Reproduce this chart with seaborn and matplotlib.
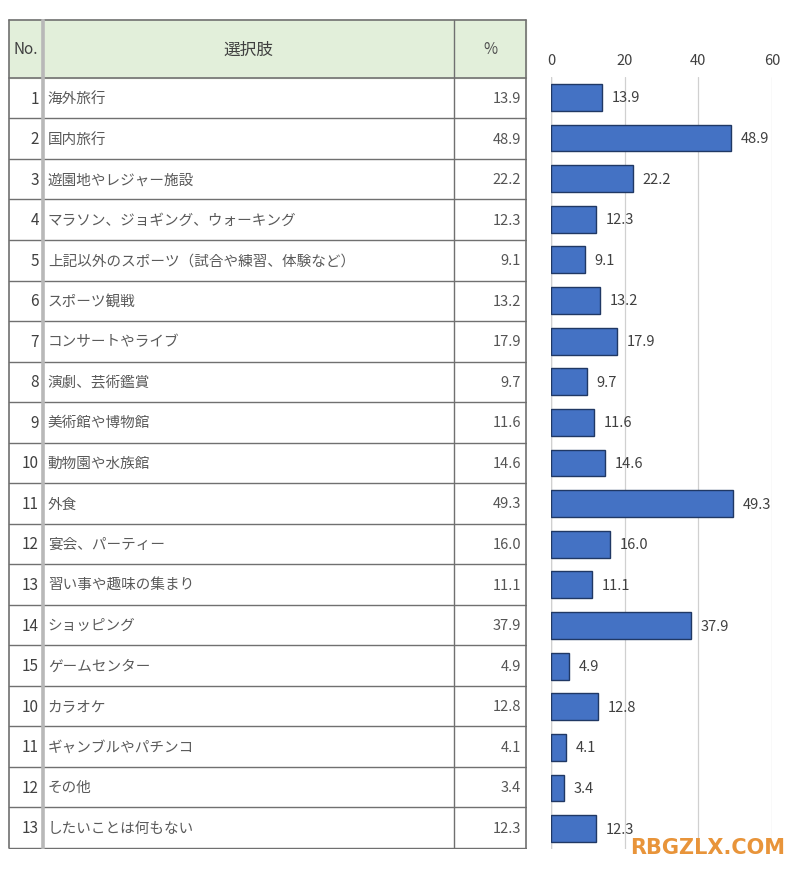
import matplotlib
matplotlib.use("Agg")
import matplotlib.pyplot as plt
import seaborn as sns
import pandas as pd

sns.set_theme(style="white")
plt.rcParams['font.family'] = ['Noto Sans CJK JP', 'DejaVu Sans']

nos = [1, 2, 3, 4, 5, 6, 7, 8, 9, 10, 11, 12, 13, 14, 15, 10, 11, 12, 13]
labels = ["海外旅行", "国内旅行", "遊園地やレジャー施設", "マラソン、ジョギング、ウォーキング",
          "上記以外のスポーツ（試合や練習、体験など）", "スポーツ観戦", "コンサートやライブ",
          "演劇、芸術鑑賞", "美術館や博物館", "動物園や水族館", "外食", "宴会、パーティー",
          "習い事や趣味の集まり", "ショッピング", "ゲームセンター", "カラオケ",
          "ギャンブルやパチンコ", "その他", "したいことは何もない"]
values = [13.9, 48.9, 22.2, 12.3, 9.1, 13.2, 17.9, 9.7, 11.6, 14.6, 49.3, 16.0,
          11.1, 37.9, 4.9, 12.8, 4.1, 3.4, 12.3]
header = ["No.", "選択肢", "%"]
xticks = [0, 20, 40, 60]

W, H = 797, 870
fig = plt.figure(figsize=(W / 100, H / 100), dpi=100)

# ---- table ----
tx0, tx1, ty0, ty1 = 8, 527, 20, 850
tab = fig.add_axes([tx0 / W, 1 - ty1 / H, (tx1 - tx0) / W, (ty1 - ty0) / H])
tab.set_xlim(tx0 - 1, tx1 + 1)
tab.set_ylim(ty1 + 1, ty0 - 1)
tab.axis("off")
hdr_bottom = 78
row_h = (ty1 - hdr_bottom) / len(labels)
c1, c2 = 42, 455
tab.fill_between([tx0, tx1], ty0, hdr_bottom, color="#e2efda", zorder=0)
line_c = "#707070"
tab.plot([tx0, tx1], [ty0, ty0], color=line_c, lw=1.2)
tab.plot([tx0, tx1], [hdr_bottom, hdr_bottom], color=line_c, lw=1.2)
for i in range(1, len(labels) + 1):
    y = hdr_bottom + i * row_h
    tab.plot([tx0, tx1], [y, y], color=line_c, lw=1.0)
tab.plot([tx0, tx0], [ty0, ty1], color=line_c, lw=1.2)
tab.plot([tx1, tx1], [ty0, ty1], color=line_c, lw=1.2)
tab.plot([c1, c1], [ty0, ty1], color="#b8b8b8", lw=2.6)
tab.plot([c2, c2], [ty0, ty1], color=line_c, lw=1.0)

hy = (ty0 + hdr_bottom) / 2
tab.text((tx0 + c1) / 2, hy, header[0], ha="center", va="center", fontsize=11, color="#404040")
tab.text((c1 + c2) / 2, hy, header[1], ha="center", va="center", fontsize=12, color="#404040")
tab.text((c2 + tx1) / 2, hy, header[2], ha="center", va="center", fontsize=11, color="#505050")
for i, (n, lab, v) in enumerate(zip(nos, labels, values)):
    y = hdr_bottom + (i + 0.5) * row_h
    tab.text(c1 - 4, y, str(n), ha="right", va="center", fontsize=11, color="#404040")
    tab.text(c1 + 5, y, lab, ha="left", va="center", fontsize=10.5, color="#5a5a5a")
    tab.text(tx1 - 5, y, f"{v:.1f}", ha="right", va="center", fontsize=10.5, color="#555555")

# ---- bar chart ----
cx0, cx1 = 551, 772
cy0, cy1 = 78, 850
ax = fig.add_axes([cx0 / W, 1 - cy1 / H, (cx1 - cx0) / W, (cy1 - cy0) / H])
df = pd.DataFrame({"cat": [str(i) for i in range(len(labels))], "val": values})
sns.barplot(data=df, y="cat", x="val", orient="h", color="#4472c4", edgecolor="#203864",
            linewidth=1.0, width=0.66, saturation=1, ax=ax)
ax.set_xlim(0, 60)
ax.set_ylim(len(labels) - 0.5, -0.5)
ax.set_xticks(xticks)
ax.xaxis.tick_top()
ax.tick_params(axis="x", length=0, pad=7, labelsize=10.5, colors="#404040")
ax.set_yticks([])
ax.set_xlabel("")
ax.set_ylabel("")
for s in ax.spines.values():
    s.set_visible(False)
ax.grid(axis="x", color="#d0d0d0", lw=0.9)
ax.axvline(0, color="#c8c8c8", lw=1.0, zorder=0)
ax.set_axisbelow(True)
ax.bar_label(ax.containers[0], fmt="%.1f", padding=7, fontsize=10.5, color="#404040")

fig.text(785 / W, 1 - 848 / H, "RBGZLX.COM", ha="right", va="center", fontsize=15,
         fontweight="bold", color="#e8943a", family=["DejaVu Sans"])

fig.savefig("out.png", dpi=100, facecolor="white")
